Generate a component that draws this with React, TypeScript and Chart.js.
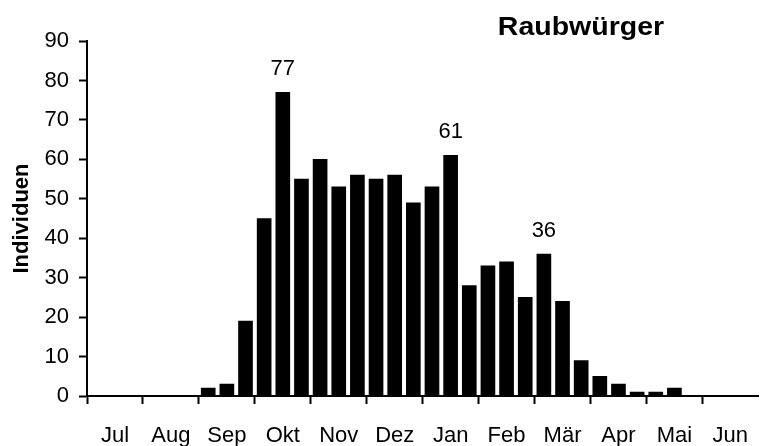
import React, { useEffect, useRef } from 'react';
import { Chart, registerables } from 'chart.js';

Chart.register(...registerables);

const months = ['Jul', 'Aug', 'Sep', 'Okt', 'Nov', 'Dez', 'Jan', 'Feb', 'Mär', 'Apr', 'Mai', 'Jun'];
// three decades (ten-day periods) per month
const decades = months.flatMap((m) => [`${m} I`, `${m} II`, `${m} III`]);
const counts = [
  0, 0, 0,
  0, 0, 0,
  2, 3, 19,
  45, 77, 55,
  60, 53, 56,
  55, 56, 49,
  53, 61, 28,
  33, 34, 25,
  36, 24, 9,
  5, 3, 1,
  1, 2, 0,
  0, 0, 0,
];
const annotatedIdx = [10, 19, 24];
const yMin = 0;
const yMax = 90;
const yStep = 10;
const chartTitle = 'Raubwürger';
const yTitle = 'Individuen';

const FONT = '"Liberation Sans", Arial, sans-serif';

const overlayPlugin = {
  id: 'overlay',
  afterDatasetsDraw(chart: any) {
    const ctx = chart.ctx;
    const meta = chart.getDatasetMeta(0);
    ctx.save();
    ctx.fillStyle = '#000';
    ctx.textAlign = 'center';
    ctx.textBaseline = 'alphabetic';
    ctx.font = `22px ${FONT}`;
    annotatedIdx.forEach((i) => {
      const bar = meta.data[i];
      if (bar) ctx.fillText(String(counts[i]), bar.x, bar.y - 17);
    });
    ctx.font = `bold 25px ${FONT}`;
    ctx.translate(581, 35);
    ctx.scale(1.14, 1);
    ctx.fillText(chartTitle, 0, 0);
    ctx.restore();
  },
};

export default function App() {
  const canvasRef = useRef<HTMLCanvasElement | null>(null);

  useEffect(() => {
    document.body.style.margin = '0';
    const canvas = canvasRef.current;
    if (!canvas) return;
    Chart.defaults.font.family = FONT;
    const chart = new Chart(canvas, {
      type: 'bar',
      data: {
        labels: decades,
        datasets: [
          {
            data: counts,
            backgroundColor: '#000',
            borderWidth: 0,
            barThickness: 14,
          },
        ],
      },
      plugins: [overlayPlugin],
      options: {
        animation: false,
        responsive: true,
        maintainAspectRatio: false,
        layout: { padding: { top: 41, left: 0, right: -2, bottom: 0 } },
        plugins: {
          legend: { display: false },
          tooltip: { enabled: false },
          title: { display: false },
        },
        scales: {
          x: {
            type: 'category',
            offset: true,
            grid: {
              offset: true,
              drawOnChartArea: false,
              drawTicks: true,
              tickLength: 8,
              tickWidth: 2,
              tickColor: (c: any) =>
                typeof c.index === 'number' && c.index % 3 === 0 ? '#000' : 'rgba(0,0,0,0)',
            },
            border: { display: true, color: '#000', width: 2 },
            ticks: {
              autoSkip: false,
              maxRotation: 0,
              minRotation: 0,
              padding: 19,
              color: '#000',
              font: { size: 22 },
              callback: (_v: any, i: number) => (i % 3 === 1 ? months[(i - 1) / 3] : ''),
            },
            afterFit: (s: any) => {
              s.height = 50;
            },
          },
          y: {
            min: yMin,
            max: yMax,
            ticks: {
              stepSize: yStep,
              padding: 10,
              color: '#000',
              font: { size: 22 },
            },
            grid: {
              drawOnChartArea: false,
              drawTicks: true,
              tickLength: 8,
              tickWidth: 2,
              tickColor: '#000',
            },
            border: { display: true, color: '#000', width: 2 },
            title: {
              display: true,
              text: yTitle,
              color: '#000',
              font: { size: 22, weight: 'bold' },
              padding: { top: 9, bottom: 0 },
            },
            afterFit: (s: any) => {
              s.width = 87;
            },
          },
        },
      } as any,
    });
    return () => chart.destroy();
  }, []);

  return (
    <div style={{ position: 'absolute', left: 0, top: 0, width: 768, height: 446, background: '#fff' }}>
      <canvas ref={canvasRef} />
    </div>
  );
}
